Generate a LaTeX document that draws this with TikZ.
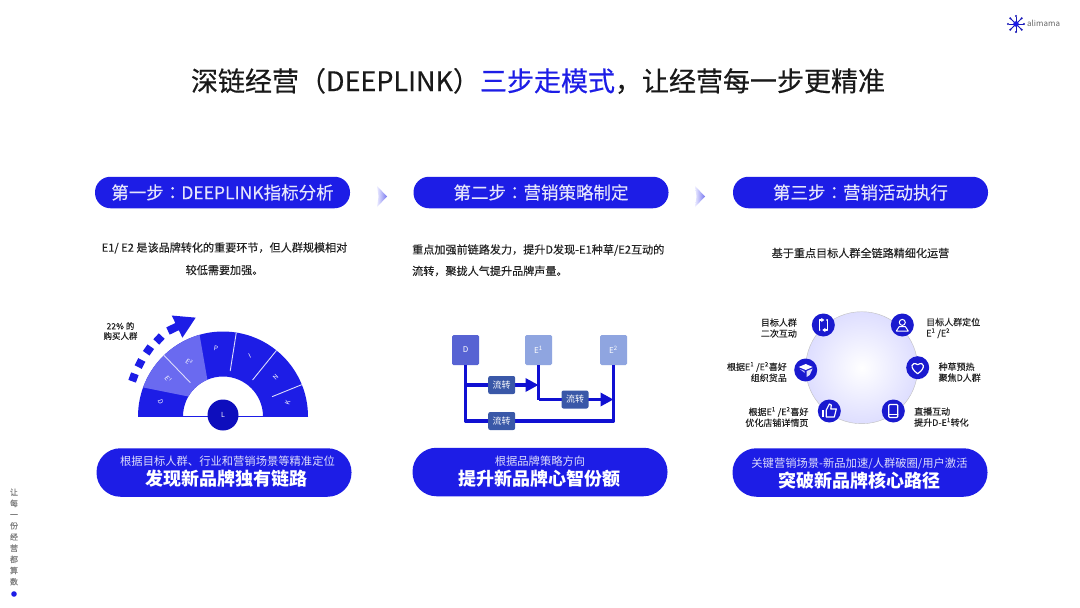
\documentclass[tikz,border=0pt]{standalone}
\usepackage{fontspec}
\setmainfont{Noto Sans CJK SC}
\newfontfamily\medfont[FakeBold=0.4]{Noto Sans CJK SC}
\newfontfamily\softfont[FakeBold=0.2]{Noto Sans CJK SC}
\newfontfamily\tcfont[FakeBold=0.2]{Noto Sans CJK TC}
\usepackage{tikz}
\usetikzlibrary{arrows.meta,positioning,calc}

\definecolor{pillblue}{HTML}{1D1DE6}
\definecolor{gaugelight}{HTML}{6A6AF0}
\definecolor{lineblue}{HTML}{1010D2}
\definecolor{flowbox}{HTML}{3A58A8}
\definecolor{tilelight}{HTML}{8FA5E0}
\definecolor{textdark}{HTML}{222222}

\tikzset{
  steppill/.style={draw=none,fill=pillblue,rounded corners=15.5pt,minimum width=255pt,minimum height=31.5pt,
    text=white!88!pillblue,inner sep=0pt,font=\softfont\fontsize{17.5}{20}\selectfont},
  footpill/.style={draw=none,fill=pillblue,rounded corners=24pt,minimum width=255pt,minimum height=48.5pt,inner sep=0pt},
  footsmall/.style={text=white!85!pillblue,inner sep=0pt,font=\fontsize{11.3}{13}\selectfont},
  footbig/.style={text=white,inner sep=0pt,font=\fontsize{18}{20}\selectfont\bfseries},
  desc/.style={text=textdark,inner sep=0pt,font=\softfont\fontsize{11.1}{13}\selectfont},
  iconlabel/.style={text=textdark,inner sep=0pt,font=\softfont\fontsize{9}{11}\selectfont},
  icondot/.style={circle,fill=pillblue!90!black,minimum size=23pt,inner sep=0pt},
  iconline/.style={draw=white,line width=1.2pt,line cap=round,line join=round},
  tile/.style={rounded corners=1.5pt,minimum width=27pt,minimum height=30pt,inner sep=0pt,text=white,font=\fontsize{8}{9}\selectfont},
  flowtag/.style={fill=flowbox,rounded corners=2pt,minimum width=27pt,minimum height=18pt,inner sep=0pt,text=white,font=\fontsize{9}{10}\selectfont},
  flowline/.style={draw=lineblue,line width=3.4pt,line join=round},
  flowarrow/.style={flowline,-{Triangle[length=13pt,width=13pt]}},
  gaugeletter/.style={text=white,inner sep=0pt,font=\fontsize{6.5}{7}\selectfont},
  dashsquare/.style={fill=pillblue,minimum size=8pt,inner sep=0pt},
}

\begin{document}
\begin{tikzpicture}[x=1pt,y=-1pt]
  \useasboundingbox[fill=white] (0,0) rectangle (1080,608);

  \node[inner sep=0pt,text=black!90,font=\medfont\fontsize{27}{30}\selectfont] (title) at (538,81)
    {深链经营（DEEPLINK）\textcolor{pillblue}{三步走模式}，让经营每一步更精准};

  % logo
  \coordinate (logo) at (1016,24);
  \foreach \a in {0,45,...,315} {
    \draw[pillblue!80!black,line width=1pt] (logo) -- ($(logo)+(\a:7.5pt)$);
    \fill[pillblue!80!black] ($(logo)+(\a:8pt)$) circle (1.2pt);
  }
  \fill[pillblue] (logo) circle (2.8pt);
  \node[anchor=west,inner sep=0pt,text=black!60,font=\fontsize{8}{9}\selectfont] (logotext) at (1027,23.5) {alimama};

  % side text
  \node[inner sep=0pt,align=center,text=black!50,font=\softfont\fontsize{8}{11.2}\selectfont] (side) at (14,537)
    {让\\每\\一\\份\\经\\营\\都\\算\\数};
  \fill[pillblue] (14,594) circle (2.8pt);

  % step headers
  \node[steppill] (stepa) at (222.5,192.5) {第一步{\tcfont：}DEEPLINK指标分析};
  \node[steppill] (stepb) at (541,192.5) {第二步{\tcfont：}营销策略制定};
  \node[steppill] (stepc) at (860.5,192.5) {第三步{\tcfont：}营销活动执行};

  \shade[left color=blue!8,right color=pillblue!60] (377,186) -- (387,196.5) -- (377,207) -- (378.5,196.5) -- cycle;
  \shade[left color=blue!8,right color=pillblue!60] (695,186) -- (705,196.5) -- (695,207) -- (696.5,196.5) -- cycle;

  % descriptions
  \node[desc] (desca) at (224.5,248) {E1/ E2 是该品牌转化的重要环节，但人群规模相对};
  \node[desc] (descaa) at (224.5,270) {较低需要加强。};
  \node[desc,anchor=west] (descb) at (412,250) {重点加强前链路发力，提升D发现-E1种草/E2互动的};
  \node[desc,anchor=west] (descbb) at (412,271) {流转，聚拢人气提升品牌声量。};
  \node[desc] (descc) at (860.5,253) {基于重点目标人群全链路精细化运营};

  % gauge
  \begin{scope}[shift={(223,416.5)},x=1pt,y=1pt]
    \fill[pillblue] (180:85) arc[start angle=180,end angle=0,radius=85] -- (0:40) arc[start angle=0,end angle=180,radius=40] -- cycle;
    \fill[gaugelight] (160:85) arc[start angle=160,end angle=106,radius=85] -- (113:40) arc[start angle=113,end angle=150,radius=40] -- cycle;
    \foreach \a/\r in {134/47,81/46,51/47,22/53} {
      \draw[white!85!pillblue,line width=0.9pt] (\a:\r) -- (\a:85);
    }
    \draw[pillblue,line width=1pt] (-85,0) -- (85,0);
    \node[gaugeletter,rotate=-72] (ld) at (167:64) {D};
    \node[gaugeletter,rotate=-50] (le) at (146:66) {E¹};
    \node[gaugeletter,rotate=-35] (lf) at (122:64) {E²};
    \node[gaugeletter,rotate=-8] (lp) at (96:68) {P};
    \node[gaugeletter,rotate=25] (li) at (66:66) {I};
    \node[gaugeletter,rotate=45] (ln) at (37:66) {N};
    \node[gaugeletter,rotate=70] (lk) at (12:66) {K};
    \node[circle,fill=lineblue!90!black,minimum size=31pt,inner sep=0pt,text=white,font=\fontsize{7}{8}\selectfont] (ll) at (0,1.5) {L};
  \end{scope}

  \node[dashsquare,rotate=-20] (sqa) at (133.5,377.5) {};
  \node[dashsquare,rotate=-27] (sqb) at (140,363.5) {};
  \node[dashsquare,rotate=-35] (sqc) at (148.5,350) {};
  \node[dashsquare,rotate=-43] (sqd) at (159,339) {};
  \coordinate (arrowfrom) at (168,331);
  \coordinate (arrowto) at (196,317.5);
  \draw[pillblue,line width=8pt,-{Triangle[length=21pt,width=23pt]}] (arrowfrom) -- (arrowto);
  \node[inner sep=0pt,align=center,text=textdark,font=\softfont\fontsize{8.5}{10}\selectfont] (buyers) at (120.5,331) {22\% 的\\购买人群};

  % flow
  \node[tile,fill=gaugelight!60!flowbox] (d) at (465.5,350) {D};
  \node[tile,fill=tilelight] (eone) at (538.5,350) {E\textsuperscript{1}};
  \node[tile,fill=tilelight] (etwo) at (613.5,350) {E\textsuperscript{2}};
  \coordinate (flowaat) at (501.7,385);
  \coordinate (flowbat) at (575,399.5);
  \coordinate (flowcat) at (501.7,421);
  \coordinate (dlow) at (d |- flowcat);
  \coordinate (etwolow) at (etwo |- flowcat);
  \coordinate (eonelow) at (eone |- flowbat);
  \coordinate (daim) at (d |- flowaat);
  \coordinate (eoneaim) at (eone |- flowaat);
  \coordinate (etwoaim) at (etwo |- flowbat);
  \draw[flowline] (d.south) -- (dlow) -- (etwolow) -- (etwo.south);
  \draw[flowline] (eone.south) -- (eonelow);
  \draw[flowarrow] (daim) -- (eoneaim);
  \draw[flowarrow] (eonelow) -- (etwoaim);
  \node[flowtag] (flowa) at (flowaat) {流转};
  \node[flowtag] (flowb) at (flowbat) {流转};
  \node[flowtag] (flowc) at (flowcat) {流转};

  % wheel
  \node[circle,draw=black!25,inner color=white,outer color=blue!13,minimum size=112pt,inner sep=0pt] (wheel) at (861.7,367.7) {};
  \node[icondot] (repost) at (823.3,325) {};
  \node[icondot] (person) at (902.3,325) {};
  \node[icondot] (heart) at (917.7,367.7) {};
  \node[icondot] (phone) at (893.3,411) {};
  \node[icondot] (thumb) at (829.3,411) {};
  \node[icondot] (cube) at (805.7,370) {};

  \draw[iconline,-{Triangle[length=3pt,width=4pt]}] ($(repost)+(-3.5,-1)$) -- ($(repost)+(-3.5,-5)$) -- ($(repost)+(1,-5)$);
  \draw[iconline] ($(repost)+(3.5,-5)$) -- ($(repost)+(4,-5)$) -- ($(repost)+(4,2)$);
  \draw[iconline,-{Triangle[length=3pt,width=4pt]}] ($(repost)+(4,1)$) -- ($(repost)+(4,5)$) -- ($(repost)+(-1,5)$);
  \draw[iconline] ($(repost)+(-3.5,5)$) -- ($(repost)+(-4,5)$) -- ($(repost)+(-4,-1)$);

  \draw[iconline,line width=1pt] ($(person)+(0,-2.6)$) circle (3pt);
  \draw[iconline,line width=1pt] ($(person)+(-6,6)$) -- ($(person)+(-3,1.5)$) -- ($(person)+(3,1.5)$) -- ($(person)+(6,6)$) -- cycle;

  \draw[iconline] ($(heart)+(0,6)$) .. controls ($(heart)+(-9,0)$) and ($(heart)+(-6,-7)$) .. ($(heart)+(0,-3)$)
    .. controls ($(heart)+(6,-7)$) and ($(heart)+(9,0)$) .. ($(heart)+(0,6)$);

  \draw[iconline,rounded corners=1pt] ($(phone)+(-4.5,-6.5)$) rectangle ($(phone)+(4.5,6.5)$);
  \draw[iconline] ($(phone)+(-4.5,3.5)$) -- ($(phone)+(4.5,3.5)$);

  \fill[white] ($(thumb)+(-7,-1)$) rectangle ($(thumb)+(-5,6)$);
  \draw[iconline] ($(thumb)+(-3,-1)$) -- ($(thumb)+(0,-7)$) -- ($(thumb)+(2,-6)$) -- ($(thumb)+(1.5,-2)$) -- ($(thumb)+(7,-2)$) -- ($(thumb)+(5,6)$) -- ($(thumb)+(-3,6)$) -- cycle;

  \fill[white] ($(cube)+(-7,-3)$) -- ($(cube)+(0,-6)$) -- ($(cube)+(7,-3)$) -- ($(cube)+(0,0)$) -- cycle;
  \fill[white!85!pillblue] ($(cube)+(1,1)$) -- ($(cube)+(7,-1.5)$) -- ($(cube)+(4,5)$) -- ($(cube)+(1,7)$) -- cycle;
  \fill[white!70!pillblue] ($(cube)+(-6,-1)$) -- ($(cube)+(-1,1)$) -- ($(cube)+(-1,3)$) -- cycle;

  \node[iconlabel,left=14.5pt of repost,align=right,yshift=-3pt] (repostlabel) {目标人群\\二次互动};
  \node[iconlabel,right=12pt of person,align=left,yshift=-3pt] (personlabel) {目标人群定位\\E\textsuperscript{1} /E\textsuperscript{2}};
  \node[iconlabel,right=9pt of heart,align=left,yshift=-4.5pt] (heartlabel) {种草预热\\聚焦D人群};
  \node[iconlabel,right=9pt of phone,align=left,yshift=-6pt] (phonelabel) {直播互动\\提升D-E\textsuperscript{1}转化};
  \node[iconlabel,left=9pt of thumb,align=right,yshift=-6pt] (thumblabel) {根据E\textsuperscript{1} /E\textsuperscript{2}喜好\\优化店铺详情页};
  \node[iconlabel,left=7pt of cube,align=right,yshift=-2pt] (cubelabel) {根据E\textsuperscript{1} /E\textsuperscript{2}喜好\\组织货品};

  % footers
  \node[footpill] (foota) at (224,472.5) {};
  \node[footpill] (footb) at (540,472) {};
  \node[footpill] (footc) at (860,472.5) {};
  \node[footsmall] (footaa) at (227.5,461) {根据目标人群、行业和营销场景等精准定位};
  \node[footbig] (footab) at (226.5,479) {发现新品牌独有链路};
  \node[footsmall] (footba) at (540,461) {根据品牌策略方向};
  \node[footbig] (footbb) at (539.5,479) {提升新品牌心智份额};
  \node[footsmall] (footca) at (859.5,463.5) {关键营销场景-新品加速/人群破圈/用户激活};
  \node[footbig] (footcb) at (859.5,481) {突破新品牌核心路径};
\end{tikzpicture}
\end{document}
